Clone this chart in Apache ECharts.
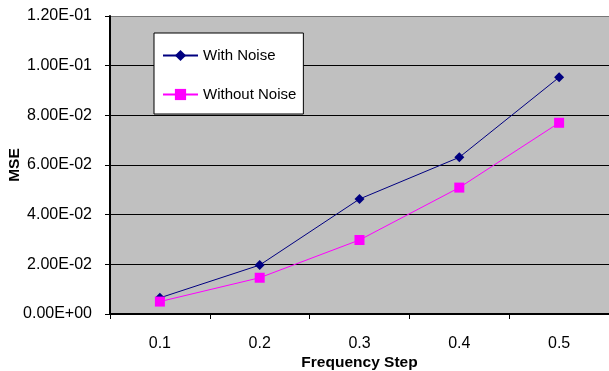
<!DOCTYPE html>
<html>
<head>
<meta charset="utf-8">
<script src="https://cdn.jsdelivr.net/npm/echarts@6/dist/echarts.min.js"></script>
<style>
  html, body { margin: 0; padding: 0; background: #ffffff; }
  #chart { width: 609px; height: 371px; }
</style>
</head>
<body>
<div id="chart"></div>
<script>
// Frequency step categories on the x axis
const steps = ['0.1', '0.2', '0.3', '0.4', '0.5'];
// Mean squared error per frequency step
const withNoise = [0.0065, 0.0197, 0.0463, 0.0631, 0.0953];
const withoutNoise = [0.0050, 0.0146, 0.0298, 0.0509, 0.0770];
// Y axis range and tick spacing
const yMin = 0;
const yMax = 0.12;
const yStep = 0.02;

const FONT = 'Liberation Sans, Arial, sans-serif';

const chart = echarts.init(document.getElementById('chart'), null, { renderer: 'canvas' });

chart.setOption({
  animation: false,
  backgroundColor: '#ffffff',
  textStyle: { fontFamily: FONT },
  grid: {
    left: 110, right: 0, top: 16, bottom: 57,
    outerBoundsMode: 'none',
    containLabel: false,
    show: true, backgroundColor: '#c0c0c0', borderWidth: 0
  },
  legend: {
    left: 154, top: 33,
    orient: 'vertical',
    backgroundColor: '#ffffff',
    borderColor: '#000000',
    borderWidth: 1,
    borderRadius: 0,
    padding: [15, 7, 12, 8],
    itemGap: 24,
    itemWidth: 35,
    itemHeight: 14,
    textStyle: { fontFamily: FONT, fontSize: 15, color: '#000000' },
    data: ['With Noise', 'Without Noise']
  },
  xAxis: {
    type: 'category',
    data: steps,
    boundaryGap: true,
    name: 'Frequency Step',
    nameLocation: 'middle',
    nameGap: 41,
    nameMoveOverlap: false,
    nameTextStyle: { fontFamily: FONT, fontSize: 15.5, fontWeight: 'bold', color: '#000000' },
    axisLine: { lineStyle: { color: '#000000', width: 2 } },
    axisTick: { show: true, length: 5, alignWithLabel: false, lineStyle: { color: '#000000', width: 1 } },
    axisLabel: { fontFamily: FONT, fontSize: 16, color: '#000000', margin: 22 },
    splitLine: { show: false }
  },
  yAxis: {
    type: 'value',
    min: yMin, max: yMax, interval: yStep,
    name: 'MSE',
    nameLocation: 'middle',
    nameGap: 87,
    nameRotate: 90,
    nameMoveOverlap: false,
    nameTextStyle: { fontFamily: FONT, fontSize: 15.5, fontWeight: 'bold', color: '#000000' },
    axisLine: { show: true, lineStyle: { color: '#000000', width: 2 } },
    axisTick: { show: true, length: 5, inside: false, lineStyle: { color: '#000000', width: 1 } },
    axisLabel: {
      fontFamily: FONT, fontSize: 16, color: '#000000', margin: 18,
      formatter: function (v) {
        const s = Number(v).toExponential(2).toUpperCase();
        // 1.20E-1 -> 1.20E-01, 0.00E+0 -> 0.00E+00
        return s.replace(/E([+-])(\d)$/, 'E$10$2');
      }
    },
    splitLine: {
      show: true,
      lineStyle: { color: ['#000000', '#000000', '#000000', '#000000', '#000000', '#000000', '#777777'], width: 1 }
    }
  },
  series: [
    {
      name: 'With Noise',
      type: 'line',
      data: withNoise,
      symbol: 'diamond',
      symbolSize: 10,
      lineStyle: { color: '#000080', width: 1 },
      itemStyle: { color: '#000080' }
    },
    {
      name: 'Without Noise',
      type: 'line',
      data: withoutNoise,
      symbol: 'rect',
      symbolSize: 10,
      lineStyle: { color: '#ff00ff', width: 1 },
      itemStyle: { color: '#ff00ff' }
    }
  ]
});
</script>
</body>
</html>
